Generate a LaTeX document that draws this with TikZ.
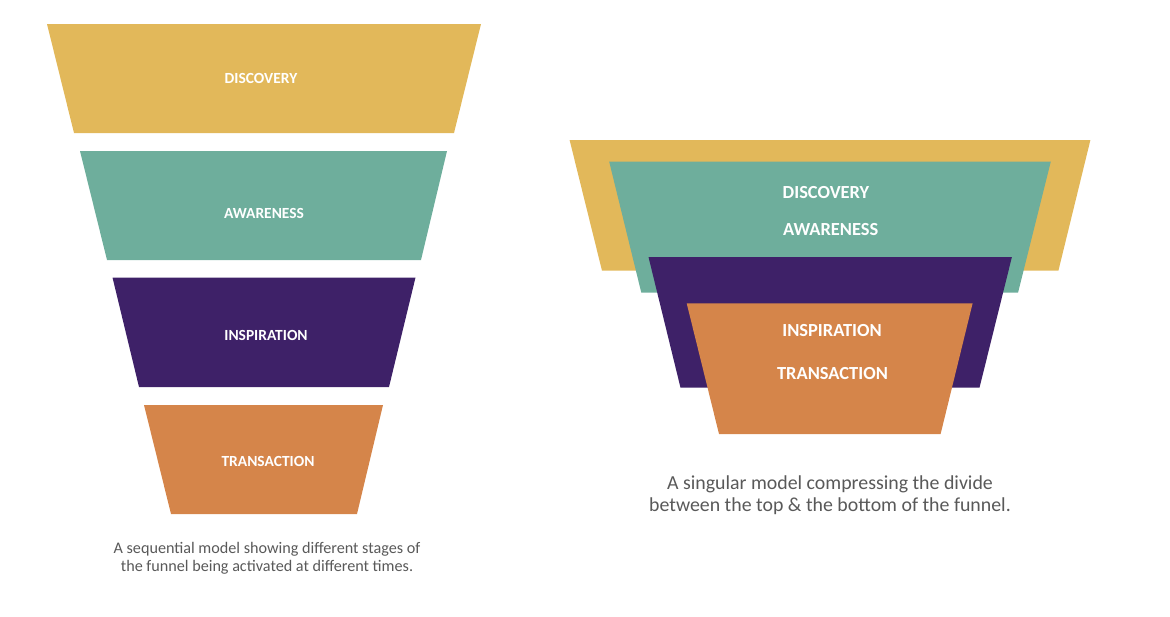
\documentclass[tikz,border=0pt]{standalone}
\usepackage{fontspec}
\setmainfont{Carlito}
\usepackage{xcolor}
\usepackage{tikz}

\definecolor{discoveryYellow}{RGB}{226,184,90}
\definecolor{awarenessTeal}{RGB}{110,174,156}
\definecolor{inspirationPurple}{RGB}{62,33,104}
\definecolor{transactionOrange}{RGB}{213,133,74}
\definecolor{captionGray}{RGB}{89,89,89}

\begin{document}
\begin{tikzpicture}
[
	x=0.02cm, y=-0.02cm,
	stageLabel/.style={text=white, font=\bfseries\fontsize{8.8}{10}\selectfont},
	bigLabel/.style={text=white, font=\bfseries\fontsize{10.5}{12}\selectfont},
	captionText/.style={text=captionGray, align=center},
	discovery/.style={fill=discoveryYellow},
	awareness/.style={fill=awarenessTeal},
	inspiration/.style={fill=inspirationPurple},
	transaction/.style={fill=transactionOrange}
]

% Page frame
\useasboundingbox (0,0) rectangle (1170,616);

% Sequential funnel
\fill[discovery] (47,24)--(481,24)--(454,133)--(74,133)--cycle;
\fill[awareness] (80,151)--(447,151)--(421,260)--(107,260)--cycle;
\fill[inspiration] (112.5,277.5)--(415.5,277.5)--(389,387)--(139,387)--cycle;
\fill[transaction] (144,405)--(383,405)--(357,514)--(171,514)--cycle;

\node[stageLabel] (seqDiscovery) at (261,78) {DISCOVERY};
\node[stageLabel] (seqAwareness) at (264,213) {AWARENESS};
\node[stageLabel] (seqInspiration) at (266,335) {INSPIRATION};
\node[stageLabel] (seqTransaction) at (268,461) {TRANSACTION};

\node[captionText, font=\fontsize{9.2}{10.1}\selectfont] (seqCaption) at (267,558)
	{A sequential model showing different stages of\\the funnel being activated at different times.};

% Singular funnel
\fill[discovery] (569.6,140)--(1090.4,140)--(1058.4,270.7)--(602,270.7)--cycle;
\fill[awareness] (609.2,161.7)--(1050.8,161.7)--(1018,292.7)--(641.3,292.7)--cycle;
\fill[inspiration] (648.5,257)--(1011.9,257)--(979.5,387.7)--(680.5,387.7)--cycle;
\fill[transaction] (686.7,303.3)--(972.6,303.3)--(940.6,434)--(719,434)--cycle;

\node[bigLabel] (singDiscovery) at (826,192.3) {DISCOVERY};
\node[bigLabel] (singAwareness) at (830.7,230) {AWARENESS};
\node[bigLabel] (singInspiration) at (832,330.7) {INSPIRATION};
\node[bigLabel] (singTransaction) at (832.5,373.3) {TRANSACTION};

\node[captionText, font=\fontsize{11.3}{12.2}\selectfont] (singCaption) at (830,495)
	{A singular model compressing the divide\\between the top \& the bottom of the funnel.};

\end{tikzpicture}
\end{document}
